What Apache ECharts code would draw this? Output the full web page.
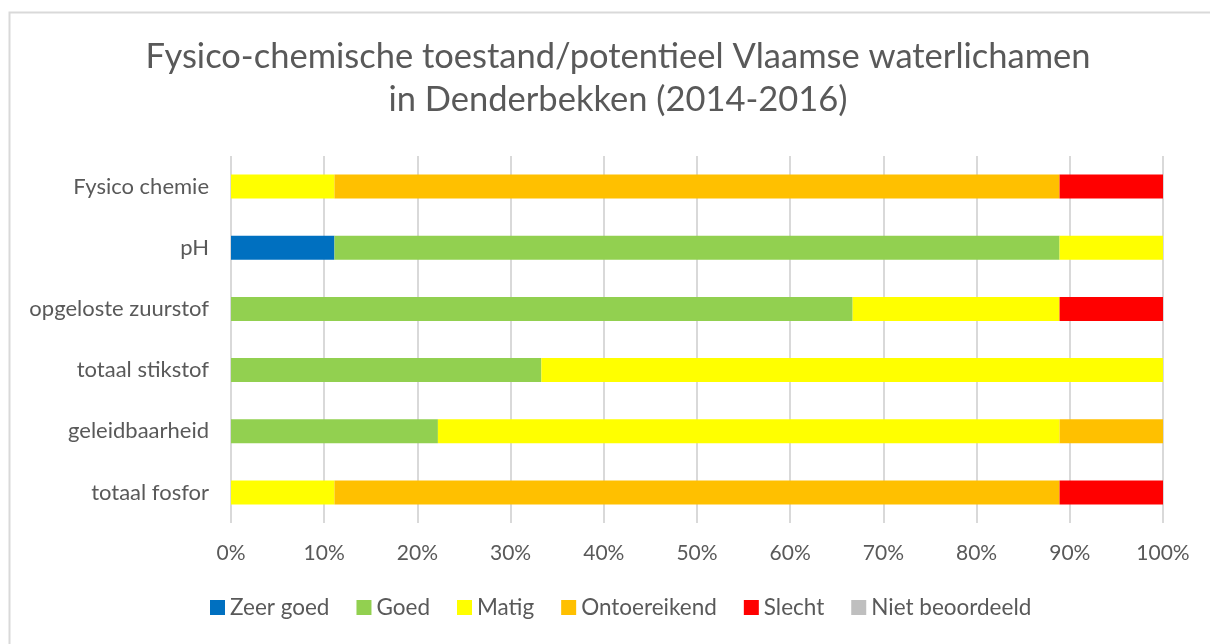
<!DOCTYPE html>
<html>
<head>
<meta charset="utf-8">
<script src="https://cdn.jsdelivr.net/npm/echarts@6/dist/echarts.min.js"></script>
<style>
  html, body { margin: 0; padding: 0; background: #fff; }
  #chart { width: 1210px; height: 644px; }
</style>
</head>
<body>
<div id="chart"></div>
<script>
// categories, top to bottom as in the picture
var categories = ['Fysico chemie', 'pH', 'opgeloste zuurstof', 'totaal stikstof', 'geleidbaarheid', 'totaal fosfor'];
var seriesNames = ['Zeer goed', 'Goed', 'Matig', 'Ontoereikend', 'Slecht', 'Niet beoordeeld'];
var colors = ['#0070C0', '#92D050', '#FFFF00', '#FFC000', '#FF0000', '#BFBFBF'];

// share of water bodies (%) per category
var zeerGoed       = [0,    11.1, 0,    0,    0,    0];
var goed           = [0,    77.8, 66.7, 33.3, 22.2, 0];
var matig          = [11.1, 11.1, 22.2, 66.7, 66.7, 11.1];
var ontoereikend   = [77.8, 0,    0,    0,    11.1, 77.8];
var slecht         = [11.1, 0,    11.1, 0,    0,    11.1];
var nietBeoordeeld = [0,    0,    0,    0,    0,    0];

var xTicks = ['0%', '10%', '20%', '30%', '40%', '50%', '60%', '70%', '80%', '90%', '100%'];

var values = [zeerGoed, goed, matig, ontoereikend, slecht, nietBeoordeeld];
var font = 'Lato, "Open Sans", sans-serif';
var textColor = '#595959';

var series = seriesNames.map(function (name, i) {
    return {
        name: name,
        type: 'bar',
        stack: 'total',
        barWidth: 24,
        itemStyle: { color: colors[i] },
        emphasis: { disabled: true },
        data: values[i]
    };
});

var option = {
    backgroundColor: '#fff',
    animation: false,
    textStyle: { fontFamily: font },
    title: {
        text: 'Fysico-chemische toestand/potentieel Vlaamse waterlichamen\nin Denderbekken (2014-2016)',
        left: 613,
        textAlign: 'center',
        top: 30,
        textStyle: {
            fontFamily: font,
            fontSize: 34.5,
            fontWeight: 'normal',
            color: textColor,
            lineHeight: 43
        }
    },
    legend: {
        bottom: 20,
        left: 205,
        itemWidth: 15,
        itemHeight: 15,
        itemGap: 27,
        icon: 'rect',
        textStyle: { fontFamily: font, fontSize: 22.5, color: textColor },
        data: seriesNames
    },
    grid: {
        left: 231,
        right: 47,
        top: 156,
        bottom: 121,
        containLabel: false
    },
    xAxis: {
        type: 'value',
        min: 0,
        max: 100,
        interval: 10,
        axisLine: { show: false },
        axisTick: { show: false },
        splitLine: { show: true, lineStyle: { color: '#D9D9D9', width: 2 } },
        axisLabel: {
            margin: 20,
            fontSize: 21,
            color: textColor,
            fontFamily: font,
            formatter: function (v) { return xTicks[Math.round(v / 10)]; }
        }
    },
    yAxis: {
        type: 'category',
        inverse: true,
        data: categories,
        axisLine: { show: false },
        axisTick: { show: false },
        axisLabel: { margin: 22, fontSize: 22, color: textColor, fontFamily: font }
    },
    graphic: [{
        type: 'rect',
        shape: { x: 9.5, y: 12.5, width: 1400, height: 800 },
        style: { fill: 'none', stroke: '#D9D9D9', lineWidth: 2 },
        silent: true
    }],
    series: series
};

var chart = echarts.init(document.getElementById('chart'));
chart.setOption(option);
</script>
</body>
</html>
